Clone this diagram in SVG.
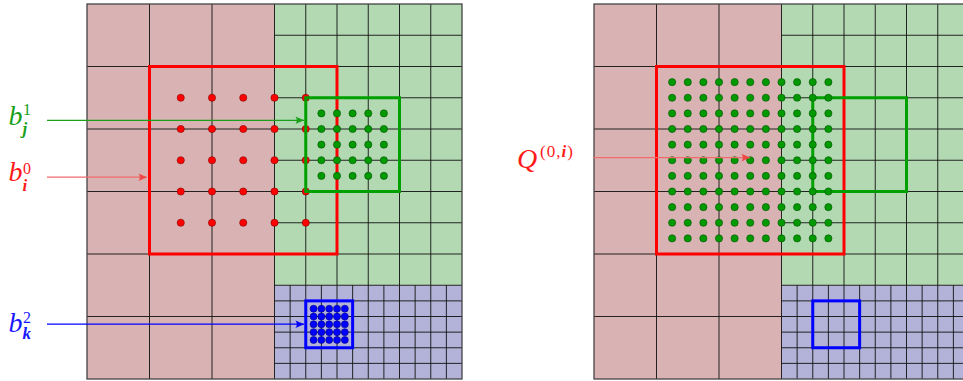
<svg xmlns="http://www.w3.org/2000/svg" xmlns:xlink="http://www.w3.org/1999/xlink" width="963" height="381" viewBox="0 0 963 381">
<style>
.gl{fill:none;stroke:#111;stroke-width:0.9}
.border{fill:none;stroke:#444;stroke-width:1.3}
.rdot{fill:#ff0000;stroke:#800000;stroke-width:0.6}
.gdot{fill:#009a00;stroke:#005000;stroke-width:0.6}
.bdot{fill:#0000ff;stroke:#000080;stroke-width:0.6}
.box{fill:none;stroke-width:3}
.conn{fill:none;stroke-width:1.2}
.t{font-family:"Liberation Serif","Times New Roman",serif}
.it{font-style:italic}
.bi{font-style:italic;font-weight:bold}
.b{font-size:28px;font-style:italic}
.sup{font-size:16px;font-style:normal}
.sub{font-size:17px;font-style:italic;font-weight:bold}
</style>
<defs>
<marker id="ahG" viewBox="-10 -5 12 10" refX="0" refY="0" markerWidth="12" markerHeight="10" markerUnits="userSpaceOnUse" orient="auto"><path d="M0,0 L-8.5,-3.8 Q-5.8,0 -8.5,3.8 Z" fill="#1aa01a"/></marker>
<marker id="ahR" viewBox="-10 -5 12 10" refX="0" refY="0" markerWidth="12" markerHeight="10" markerUnits="userSpaceOnUse" orient="auto"><path d="M0,0 L-8.5,-3.8 Q-5.8,0 -8.5,3.8 Z" fill="#f04848"/></marker>
<marker id="ahB" viewBox="-10 -5 12 10" refX="0" refY="0" markerWidth="12" markerHeight="10" markerUnits="userSpaceOnUse" orient="auto"><path d="M0,0 L-8.5,-3.8 Q-5.8,0 -8.5,3.8 Z" fill="#0000ff"/></marker>
<g id="grid">
<rect x="87" y="4" width="187.5" height="375" fill="#d9b3b3"/>
<rect x="274.5" y="4" width="187.5" height="281.25" fill="#b3d9b3"/>
<rect x="274.5" y="285.25" width="187.5" height="93.75" fill="#b3b3d9"/>
<path class="gl" d="M149.5 4V379M212 4V379M87 66.5H274.5M87 129H274.5M87 191.5H274.5M87 254H274.5M87 316.5H274.5"/>
<path class="gl" d="M305.75 4V285.25M337 4V285.25M368.25 4V285.25M399.5 4V285.25M430.75 4V285.25M274.5 35.25H462M274.5 66.5H462M274.5 97.75H462M274.5 129H462M274.5 160.25H462M274.5 191.5H462M274.5 222.75H462M274.5 254H462M274.5 285.25H462"/>
<path class="gl" d="M290.125 285.25V379M305.75 285.25V379M321.375 285.25V379M337 285.25V379M352.625 285.25V379M368.25 285.25V379M383.875 285.25V379M399.5 285.25V379M415.125 285.25V379M430.75 285.25V379M446.375 285.25V379M274.5 300.875H462M274.5 316.5H462M274.5 332.125H462M274.5 347.75H462M274.5 363.375H462"/>
<path class="gl" d="M274.5 4V379"/>
<rect class="border" x="87" y="4" width="375" height="375"/>
</g>
<g id="rRow5"><circle class="rdot" cx="0" cy="0" r="3.6"/><circle class="rdot" cx="31.25" cy="0" r="3.6"/><circle class="rdot" cx="62.5" cy="0" r="3.6"/><circle class="rdot" cx="93.75" cy="0" r="3.6"/><circle class="rdot" cx="125" cy="0" r="3.6"/></g>
<g id="gRow5"><circle class="gdot" cx="0" cy="0" r="3.6"/><circle class="gdot" cx="15.625" cy="0" r="3.6"/><circle class="gdot" cx="31.25" cy="0" r="3.6"/><circle class="gdot" cx="46.875" cy="0" r="3.6"/><circle class="gdot" cx="62.5" cy="0" r="3.6"/></g>
<g id="bRow5"><circle class="bdot" cx="0" cy="0" r="3.5"/><circle class="bdot" cx="7.8125" cy="0" r="3.5"/><circle class="bdot" cx="15.625" cy="0" r="3.5"/><circle class="bdot" cx="23.4375" cy="0" r="3.5"/><circle class="bdot" cx="31.25" cy="0" r="3.5"/></g>
<g id="gRow11"><use xlink:href="#gRow5" x="0"/><use xlink:href="#gRow5" x="78.125"/><circle class="gdot" cx="156.25" cy="0" r="3.6"/></g>
</defs>

<g id="grid-left"><use xlink:href="#grid"/></g>
<g id="grid-right"><use xlink:href="#grid" x="507"/></g>

<g id="box-b0-left"><rect class="box" x="149.5" y="66.5" width="187.5" height="187.5" stroke="#ff0000"/></g>
<g id="dots-b0">
<use xlink:href="#rRow5" x="180.75" y="97.75"/>
<use xlink:href="#rRow5" x="180.75" y="129"/>
<use xlink:href="#rRow5" x="180.75" y="160.25"/>
<use xlink:href="#rRow5" x="180.75" y="191.5"/>
<use xlink:href="#rRow5" x="180.75" y="222.75"/>
</g>
<g id="box-b1-left"><rect class="box" x="305.75" y="97.75" width="93.75" height="93.75" stroke="#00a000"/></g>
<g id="dots-b1">
<use xlink:href="#gRow5" x="321.375" y="113.375"/>
<use xlink:href="#gRow5" x="321.375" y="129"/>
<use xlink:href="#gRow5" x="321.375" y="144.625"/>
<use xlink:href="#gRow5" x="321.375" y="160.25"/>
<use xlink:href="#gRow5" x="321.375" y="175.875"/>
</g>
<g id="box-b2-left"><rect class="box" x="305.75" y="300.875" width="46.875" height="46.875" stroke="#0000ff"/></g>
<g id="dots-b2">
<use xlink:href="#bRow5" x="313.5625" y="308.6875"/>
<use xlink:href="#bRow5" x="313.5625" y="316.5"/>
<use xlink:href="#bRow5" x="313.5625" y="324.3125"/>
<use xlink:href="#bRow5" x="313.5625" y="332.125"/>
<use xlink:href="#bRow5" x="313.5625" y="339.9375"/>
</g>

<g id="box-b0-right"><rect class="box" x="656.5" y="66.5" width="187.5" height="187.5" stroke="#ff0000"/></g>
<g id="box-b1-right"><rect class="box" x="812.75" y="97.75" width="93.75" height="93.75" stroke="#00a000"/></g>
<g id="box-b2-right"><rect class="box" x="812.75" y="300.875" width="46.875" height="46.875" stroke="#0000ff"/></g>
<g id="dots-Q">
<use xlink:href="#gRow11" x="672.125" y="82.125"/>
<use xlink:href="#gRow11" x="672.125" y="97.75"/>
<use xlink:href="#gRow11" x="672.125" y="113.375"/>
<use xlink:href="#gRow11" x="672.125" y="129"/>
<use xlink:href="#gRow11" x="672.125" y="144.625"/>
<use xlink:href="#gRow11" x="672.125" y="160.25"/>
<use xlink:href="#gRow11" x="672.125" y="175.875"/>
<use xlink:href="#gRow11" x="672.125" y="191.5"/>
<use xlink:href="#gRow11" x="672.125" y="207.125"/>
<use xlink:href="#gRow11" x="672.125" y="222.75"/>
<use xlink:href="#gRow11" x="672.125" y="238.375"/>
</g>

<g id="label-b1"><text class="t" fill="#1aa01a"><tspan class="b" x="8.5" y="125">b</tspan><tspan class="sup" x="23" y="115">1</tspan><tspan class="sub" x="22.5" y="133.5">j</tspan></text></g>
<g id="label-b0"><text class="t" fill="#ff1a1a"><tspan class="b" x="8.5" y="181">b</tspan><tspan class="sup" x="23" y="174">0</tspan><tspan class="sub" x="22.5" y="190.5">i</tspan></text></g>
<g id="label-b2"><text class="t" fill="#1a1aff"><tspan class="b" x="8.5" y="331.5">b</tspan><tspan class="sup" x="23" y="322.5">2</tspan><tspan class="sub" x="22.5" y="339">k</tspan></text></g>
<g id="label-Q"><text class="t" fill="#ff1a1a"><tspan class="it" x="517" y="168" font-size="28">Q</tspan><tspan x="540" y="157" font-size="17" letter-spacing="1">(0,<tspan class="bi">i</tspan>)</tspan></text></g>

<g id="connectors">
<path class="conn" d="M47 120.3H304" stroke="#1aa01a" marker-end="url(#ahG)"/>
<path class="conn" d="M47 177.2H147" stroke="#f26a6a" marker-end="url(#ahR)"/>
<path class="conn" d="M47 324.2H304" stroke="#0000ff" marker-end="url(#ahB)"/>
<path class="conn" d="M593 157.6H750" stroke="#f26a6a" marker-end="url(#ahR)"/>
</g>
</svg>
